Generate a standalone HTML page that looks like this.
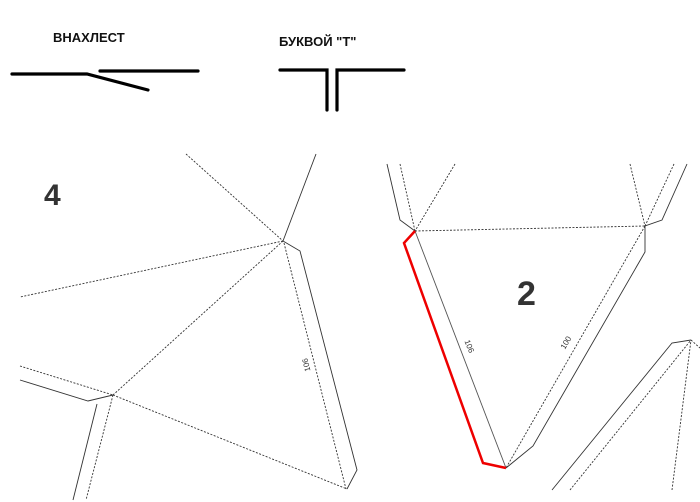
<!DOCTYPE html>
<html><head><meta charset="utf-8"><style>
html,body{margin:0;padding:0;background:#fff;width:700px;height:502px;overflow:hidden}
svg{display:block}
</style></head><body>
<svg width="700" height="502" viewBox="0 0 700 502" xmlns="http://www.w3.org/2000/svg">
<g font-family="Liberation Sans, sans-serif" font-weight="bold" fill="#111">
<text x="53" y="42" font-size="13">ВНАХЛЕСТ</text>
<text x="279" y="46" font-size="13">БУКВОЙ "Т"</text>
</g>
<g stroke="#000" stroke-width="3.2" fill="none" stroke-linecap="round" stroke-linejoin="miter">
<polyline points="12,74 87,74 148,90"/>
<line x1="100" y1="71" x2="198" y2="71"/>
<polyline points="280,70 327,70 327,110"/>
<polyline points="404,70 337,70 337,110"/>
</g>
<g fill="none" stroke="#333" stroke-width="0.9">
<!-- left -->
<polyline points="316,154 283,241"/>
<polyline points="283,241 300,251 357,470 347,489"/>
<polyline points="20,380 88,401 113,395"/>
<polyline points="97,404 73,500"/>
<!-- right -->
<polyline points="387,164 400,220 415,231"/>
<polyline points="687,164 662,220 645,226 645,252 533,446 506,468"/>
<line x1="415" y1="231" x2="506" y2="468" stroke="#555"/>
<polyline points="552,490 672,343 691,340"/>
</g>
<g fill="none" stroke="#333" stroke-width="0.9" stroke-dasharray="2,1.5">
<line x1="186" y1="154" x2="283" y2="241"/>
<line x1="284" y1="243" x2="346" y2="489"/>
<line x1="283" y1="241" x2="20" y2="297"/>
<line x1="283" y1="241" x2="113" y2="395"/>
<line x1="20" y1="366" x2="113" y2="395"/>
<line x1="113" y1="395" x2="86" y2="500"/>
<line x1="113" y1="395" x2="347" y2="489"/>
<line x1="400" y1="164" x2="415" y2="231"/>
<line x1="455" y1="164" x2="415" y2="231"/>
<line x1="415" y1="231" x2="645" y2="226"/>
<line x1="630" y1="164" x2="645" y2="226"/>
<line x1="674" y1="164" x2="645" y2="226"/>
<line x1="645" y1="226" x2="506" y2="468"/>
<line x1="570" y1="490" x2="691" y2="340"/>
<line x1="672" y1="490" x2="691" y2="340"/>
<line x1="691" y1="340" x2="700" y2="348"/>
</g>
<polyline points="415,231 404,243 483,463 506,468" fill="none" stroke="#e00" stroke-width="2.5"/>
<g font-family="Liberation Sans, sans-serif" font-weight="bold" fill="#333">
<text x="44" y="205" font-size="30">4</text>
<text x="517" y="305" font-size="34">2</text>
</g>
<g font-family="Liberation Sans, sans-serif" font-size="8" fill="#333">
<text transform="translate(306,365) rotate(-104)" text-anchor="middle" dy="3">106</text>
<text transform="translate(465,348) rotate(68)" text-anchor="middle" dy="-2">106</text>
<text transform="translate(570,345) rotate(-60)" text-anchor="middle" dy="-2">100</text>
</g>
</svg>
</body></html>
